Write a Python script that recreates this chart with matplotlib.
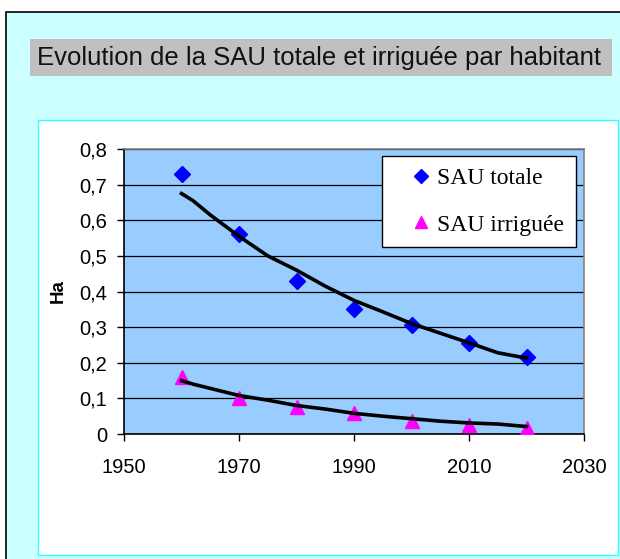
import matplotlib.pyplot as plt
from matplotlib.patches import Rectangle
from matplotlib.ticker import FuncFormatter

W, H = 620, 559

years = [1960, 1970, 1980, 1990, 2000, 2010, 2020]
sau_totale = [0.73, 0.56, 0.43, 0.35, 0.305, 0.255, 0.215]
sau_irriguee = [0.16, 0.10, 0.076, 0.059, 0.037, 0.025, 0.018]

trend_years = [1960, 1962, 1965, 1970, 1975, 1980, 1985, 1990, 1995, 2000, 2005, 2010, 2015, 2020]
trend_totale = [0.675, 0.655, 0.615, 0.555, 0.50, 0.46, 0.415, 0.375, 0.343, 0.31, 0.283, 0.256, 0.228, 0.213]
trend_irriguee = [0.15, 0.14, 0.128, 0.108, 0.095, 0.08, 0.07, 0.058, 0.05, 0.043, 0.036, 0.031, 0.028, 0.021]


def box(x0, y0, x1, y1):
    # pixel box (top-left origin) -> figure fraction
    return (x0 / W, 1 - y1 / H, (x1 - x0) / W, (y1 - y0) / H)


def comma(v, pos):
    return "0" if v == 0 else f"{v:.1f}".replace(".", ",")


def panel(x0, y0, x1, y1, **kw):
    x, y, w, h = box(x0, y0, x1, y1)
    fig.patches.append(Rectangle((x, y), w, h, transform=fig.transFigure, zorder=-5, **kw))


fig = plt.figure(figsize=(W / 100, H / 100), dpi=100, facecolor="white")

# outer frame, title band and inner panel
panel(6, 12, 625, 565, facecolor="#CCFFFF", edgecolor="black", lw=1.2)
panel(30, 39, 612, 76, facecolor="#C0C0C0", edgecolor="none")
panel(38, 120, 618, 555, facecolor="white", edgecolor="#33FFFF", lw=1)

fig.text(37 / W, 1 - 58 / H, "Evolution de la SAU totale et irriguée par habitant",
         family="Liberation Sans", fontsize=18.5,
         ha="left", va="center", color="#111111")

ax = fig.add_axes(box(124, 149, 584, 434))
ax.set_facecolor("#99CCFF")

ax.plot(years, sau_totale, ls="none", marker="D", ms=8, color="#0000FF",
        label="SAU totale", zorder=3)
ax.plot(years, sau_irriguee, ls="none", marker="^", ms=10.5, color="#FF00FF",
        label="SAU irriguée", zorder=3)
ax.plot(trend_years, trend_totale, color="black", lw=2.6, zorder=4)
ax.plot(trend_years, trend_irriguee, color="black", lw=2.6, zorder=4)

ax.set_xlim(1950, 2030)
ax.set_ylim(0, 0.8)
ax.set_xticks([1950, 1970, 1990, 2010, 2030])
ax.set_yticks([i / 10 for i in range(9)])
ax.yaxis.set_major_formatter(FuncFormatter(comma))
ax.grid(axis="y", color="black", lw=0.9)
ax.set_axisbelow(True)
for lab in ax.get_xticklabels() + ax.get_yticklabels():
    lab.set_family("Liberation Sans")
    lab.set_fontsize(14.5)
ax.tick_params(direction="out", length=5, width=1, color="black", pad=7)
ax.tick_params(axis="x", pad=12)

ax.spines["left"].set_color("black")
ax.spines["bottom"].set_color("black")
ax.spines["top"].set_color("#808080")
ax.spines["right"].set_color("#808080")
for s in ax.spines.values():
    s.set_linewidth(1.2)

ax.set_ylabel("Ha", family="Liberation Sans", fontweight="bold", fontsize=13.5, labelpad=9)

leg = ax.legend(loc="upper left", bbox_to_anchor=(382 / W, 1 - 156 / H),
                bbox_transform=fig.transFigure, frameon=True, fancybox=False,
                prop={"family": "Liberation Serif", "size": 17},
                borderpad=0.5, labelspacing=1.05, handletextpad=-0.45,
                handlelength=2.3, borderaxespad=0, markerscale=0.85)
leg.get_frame().set_edgecolor("black")
leg.get_frame().set_linewidth(1)
leg.get_frame().set_alpha(1)

fig.savefig("out.png", dpi=100)
